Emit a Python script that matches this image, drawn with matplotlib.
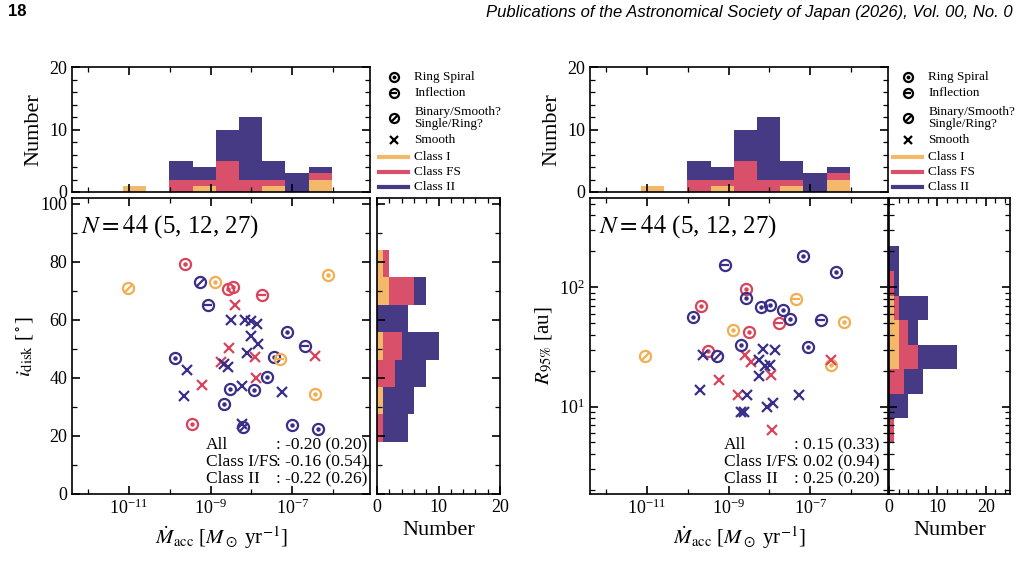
import numpy as np
import matplotlib
matplotlib.use("Agg")
import matplotlib.pyplot as plt
from matplotlib.ticker import NullFormatter
from matplotlib.path import Path

plt.rcParams['font.family'] = ['Liberation Serif', 'DejaVu Serif']
plt.rcParams['mathtext.fontset'] = 'stix'

# ---------------- data ----------------
# left panel: log10 Macc, inclination, class, morphology
left_logm = [-11.02, -9.63, -9.25, -8.89, -8.57, -8.46, -7.74, -6.12, -9.06, -8.41,
             -8.50, -8.15, -8.01, -7.87, -7.14, -8.00, -7.83, -6.69, -8.56, -8.12,
             -7.91, -7.46, -7.30, -6.44, -9.86, -8.74, -8.68, -8.58, -9.58, -7.89,
             -7.61, -9.21, -8.52, -8.22, -7.93, -7.25, -6.45, -9.66, -8.68, -9.46,
             -8.24, -8.21, -7.01, -6.36]
left_incl = [71.0, 79.1, 73.2, 73.2, 70.6, 71.5, 68.5, 75.5, 65.2, 65.3,
             59.8, 60.1, 59.5, 58.7, 55.9, 54.5, 51.7, 51.0, 50.2, 48.7,
             47.3, 47.3, 46.6, 47.5, 46.9, 45.5, 44.9, 43.9, 42.9, 39.9,
             40.4, 37.6, 36.2, 37.1, 35.9, 35.2, 34.4, 33.7, 30.9, 24.1,
             24.1, 23.1, 23.9, 22.5]
left_cls = ['I', 'FS', 'II', 'I', 'FS', 'FS', 'FS', 'I', 'II', 'FS',
            'II', 'II', 'II', 'II', 'II', 'II', 'II', 'II', 'FS', 'II',
            'FS', 'II', 'I', 'FS', 'II', 'FS', 'II', 'II', 'II', 'FS',
            'II', 'FS', 'II', 'II', 'II', 'II', 'I', 'II', 'II', 'FS',
            'II', 'II', 'II', 'II']
left_morph = ['bin', 'ring', 'bin', 'ring', 'ring', 'ring', 'infl', 'ring', 'infl', 'smooth',
              'smooth', 'smooth', 'smooth', 'smooth', 'ring', 'smooth', 'smooth', 'infl', 'smooth', 'smooth',
              'smooth', 'ring', 'infl', 'smooth', 'ring', 'smooth', 'smooth', 'smooth', 'smooth', 'smooth',
              'ring', 'smooth', 'ring', 'smooth', 'ring', 'smooth', 'ring', 'smooth', 'ring', 'ring',
              'smooth', 'bin', 'ring', 'ring']

# right panel: log10 Macc, log10 R95 [au], class, morphology
right_logm = [-11.04, -8.90, -7.34, -6.17, -6.49,
              -8.58, -9.67, -7.76, -8.50, -9.50, -8.60, -8.44, -7.95, -9.24, -8.76, -6.50, -7.93,
              -7.18, -6.38, -9.08, -8.57, -8.21, -7.98, -7.66, -7.49, -9.88, -6.73, -8.70, -7.06, -9.28,
              -9.62, -8.15, -7.87, -8.26, -8.11, -7.99, -8.26, -9.70, -8.54, -7.28, -7.91, -8.05, -8.70, -8.62]
right_logr = [1.427, 1.643, 1.900, 1.710, 1.350,
              1.988, 1.842, 1.699, 1.629, 1.466, 1.436, 1.373, 1.261, 1.219, 1.101, 1.390, 0.806,
              2.258, 2.131, 2.190, 1.910, 1.831, 1.851, 1.809, 1.735, 1.747, 1.722, 1.516, 1.500, 1.427,
              1.436, 1.480, 1.474, 1.390, 1.340, 1.348, 1.255, 1.135, 1.101, 1.101, 1.031, 0.997, 0.952, 0.955]
right_cls = ['I'] * 5 + ['FS'] * 12 + ['II'] * 27
right_morph = ['bin', 'ring', 'infl', 'ring', 'ring',
               'ring', 'ring', 'infl', 'ring', 'ring'] + ['smooth'] * 7 + \
              ['ring', 'ring', 'infl', 'ring', 'ring', 'ring', 'ring', 'ring', 'ring', 'infl', 'ring', 'ring', 'bin'] + \
              ['smooth'] * 14

# histogram counts (stacked: Class I, FS, II)
macc_edges = [-11.14 + 0.567 * k for k in range(10)]
macc_I = [1, 0, 0, 1, 0, 0, 1, 0, 2]
macc_FS = [0, 0, 2, 1, 5, 2, 1, 0, 1]
macc_II = [0, 0, 3, 2, 5, 10, 3, 3, 1]

incl_edges = [18.0 + 9.44 * k for k in range(8)]
incl_I = [0, 1, 0, 1, 0, 2, 1]
incl_FS = [1, 0, 3, 3, 0, 4, 1]
incl_II = [4, 5, 5, 6, 5, 2, 0]

r_edges = [0.694 + 0.206 * k for k in range(9)]
r_I = [0, 0, 0, 2, 2, 1, 0, 0]
r_FS = [1, 0, 3, 4, 2, 1, 1, 0]
r_II = [0, 4, 4, 8, 2, 6, 1, 2]

stats_left = [("All", ": -0.20 (0.20)"), ("Class I/FS", ": -0.16 (0.54)"), ("Class II", ": -0.22 (0.26)")]
stats_right = [("All", ": 0.15 (0.33)"), ("Class I/FS", ": 0.02 (0.94)"), ("Class II", ": 0.25 (0.20)")]

# ---------------- style ----------------
col_pt = {'I': '#F2AE52', 'FS': '#D9445C', 'II': '#3A2F88'}
col_h = {'I': '#F3B86A', 'FS': '#D8506A', 'II': '#463A84'}
slash = Path([(-0.7, -0.7), (0.7, 0.7)])

W, H = 1021, 573
fig = plt.figure(figsize=(W / 100, H / 100), dpi=100)


def pax(x0, y0, x1, y1):
    return fig.add_axes([x0 / W, 1 - y1 / H, (x1 - x0) / W, (y1 - y0) / H])


def style(ax):
    ax.tick_params(which='both', direction='in', top=True, right=True, labelsize=13)
    ax.tick_params(which='major', length=6, width=1.2)
    ax.tick_params(which='minor', length=3.5, width=0.9)
    ax.xaxis.set_minor_formatter(NullFormatter())
    ax.yaxis.set_minor_formatter(NullFormatter())
    for s in ax.spines.values():
        s.set_linewidth(1.2)


def logx(ax):
    ax.set_xscale('log')
    ax.set_xlim(10 ** -12.39, 10 ** -5.1)
    ax.set_xticks([1e-11, 1e-9, 1e-7])
    ax.set_xticks([1e-12, 1e-10, 1e-8, 1e-6], minor=True)
    ax.xaxis.set_minor_formatter(NullFormatter())


def draw_points(ax, xs, ys, cls, morph):
    for x, y, c, m in zip(xs, ys, cls, morph):
        col = col_pt[c]
        if m == 'smooth':
            ax.plot(x, y, marker='x', ms=7, mew=1.6, color=col, ls='none')
        else:
            ax.plot(x, y, marker='o', ms=8, mfc='none', mew=1.6, mec=col, ls='none')
            if m == 'ring':
                ax.plot(x, y, marker='o', ms=2.2, color=col, ls='none')
            elif m == 'infl':
                ax.plot(x, y, marker='_', ms=6, mew=1.6, color=col, ls='none')
            else:
                ax.plot(x, y, marker=slash, ms=5.5, mew=1.6, color=col, ls='none')


def top_hist(ax):
    e = 10 ** np.array(macc_edges)
    w = np.diff(e)
    b = np.zeros(len(macc_I))
    for key, vals in (('I', macc_I), ('FS', macc_FS), ('II', macc_II)):
        ax.bar(e[:-1], vals, width=w, bottom=b, align='edge', color=col_h[key], lw=0)
        b = b + np.array(vals)
    logx(ax)
    ax.set_ylim(0, 20)
    ax.set_yticks([0, 10, 20])
    ax.set_yticks(np.arange(0, 21, 2), minor=True)
    ax.tick_params(labelbottom=False)
    ax.set_ylabel("Number", fontsize=16)
    style(ax)
    ax.tick_params(which='both', labelbottom=False)


def side_hist(ax, edges, I, FS, II, log=False):
    e = np.array(edges)
    if log:
        e = 10 ** e
    h = np.diff(e)
    b = np.zeros(len(I))
    for key, vals in (('I', I), ('FS', FS), ('II', II)):
        ax.barh(e[:-1], vals, height=h, left=b, align='edge', color=col_h[key], lw=0)
        b = b + np.array(vals)
    ax.set_xlabel("Number", fontsize=16)
    style(ax)
    ax.tick_params(which='both', labelleft=False)


def stats(ax, rows):
    for i, (a, b) in enumerate(rows):
        y = 0.165 - i * 0.058
        ax.text(0.45, y, a, transform=ax.transAxes, fontsize=12.5, va='center')
        ax.text(0.685, y, b, transform=ax.transAxes, fontsize=12.5, va='center')


# ---------------- left ----------------
axT = pax(72, 67, 370, 192)
top_hist(axT)

axS = pax(72, 198, 370, 494)
draw_points(axS, 10 ** np.array(left_logm), left_incl, left_cls, left_morph)
logx(axS)
axS.set_ylim(0, 102)
axS.set_yticks(np.arange(0, 101, 20))
axS.set_yticks(np.arange(0, 101, 10), minor=True)
axS.set_xlabel(r"$\dot{M}_{\rm acc}$ [$M_\odot$ yr$^{-1}$]", fontsize=15)
axS.set_ylabel(r"$i_{\rm disk}$ [$^\circ$]", fontsize=15)
axS.text(0.03, 0.95, r"$N = 44$ (5, 12, 27)", transform=axS.transAxes, fontsize=18, va='top')
stats(axS, stats_left)
style(axS)

axR = pax(377, 198, 500, 494)
side_hist(axR, incl_edges, incl_I, incl_FS, incl_II)
axR.set_ylim(0, 102)
axR.set_yticks(np.arange(0, 101, 20))
axR.set_yticks(np.arange(0, 101, 10), minor=True)
axR.set_xlim(0, 20)
axR.set_xticks([0, 10, 20])
axR.set_xticks(np.arange(0, 21, 2), minor=True)

# ---------------- right ----------------
axT2 = pax(590, 67, 888, 192)
top_hist(axT2)

axS2 = pax(590, 198, 888, 494)
draw_points(axS2, 10 ** np.array(right_logm), 10 ** np.array(right_logr), right_cls, right_morph)
logx(axS2)
axS2.set_yscale('log')
axS2.set_ylim(1.85, 560)
axS2.set_xlabel(r"$\dot{M}_{\rm acc}$ [$M_\odot$ yr$^{-1}$]", fontsize=15)
axS2.set_ylabel(r"$R_{95\%}$ [au]", fontsize=15)
axS2.text(0.03, 0.95, r"$N = 44$ (5, 12, 27)", transform=axS2.transAxes, fontsize=18, va='top')
stats(axS2, stats_right)
style(axS2)

axR2 = pax(889, 198, 1010, 494)
side_hist(axR2, r_edges, r_I, r_FS, r_II, log=True)
axR2.set_yscale('log')
axR2.set_ylim(1.85, 560)
axR2.set_xlim(0, 25)
axR2.set_xticks([0, 10, 20])
axR2.set_xticks(np.arange(0, 25, 2), minor=True)
axR2.yaxis.set_minor_formatter(NullFormatter())
axR2.tick_params(which='both', labelleft=False)

# ---------------- legends ----------------
for lx in (376, 890):
    la = pax(lx, 68, lx + 128, 195)
    la.axis('off')
    la.set_xlim(0, 1)
    la.set_ylim(0, 1)
    rows = [("Ring Spiral", 'ring', 0.93), ("Inflection", 'infl', 0.80),
            ("Binary/Smooth?\nSingle/Ring?", 'bin', 0.61), ("Smooth", 'smooth', 0.43)]
    for lab, m, y in rows:
        if m == 'smooth':
            la.plot(0.14, y, marker='x', ms=5.5, mew=1.6, color='k')
        else:
            la.plot(0.14, y, marker='o', ms=6.5, mfc='none', mec='k', mew=1.6)
            if m == 'ring':
                la.plot(0.14, y, marker='o', ms=1.8, color='k')
            elif m == 'infl':
                la.plot(0.14, y, marker='_', ms=5, mew=1.6, color='k')
            else:
                la.plot(0.14, y, marker=slash, ms=4.5, mew=1.6, color='k')
        la.text(0.30, y, lab, fontsize=9.5, va='center', linespacing=1.0)
    for lab, key, y in (("Class I", 'I', 0.30), ("Class FS", 'FS', 0.18), ("Class II", 'II', 0.06)):
        la.plot([0.02, 0.25], [y, y], color=col_h[key], lw=3)
        la.text(0.30, y, lab, fontsize=9.5, va='center')

# header
fig.text(8 / W, 1 - 12 / H, "18", fontsize=12, fontweight='bold', family='Liberation Sans', va='center')
fig.text(1013 / W, 1 - 12 / H, "Publications of the Astronomical Society of Japan (2026), Vol. 00, No. 0",
         fontsize=12, style='italic', family='Liberation Sans', va='center', ha='right')

fig.savefig("out.png", dpi=100)
